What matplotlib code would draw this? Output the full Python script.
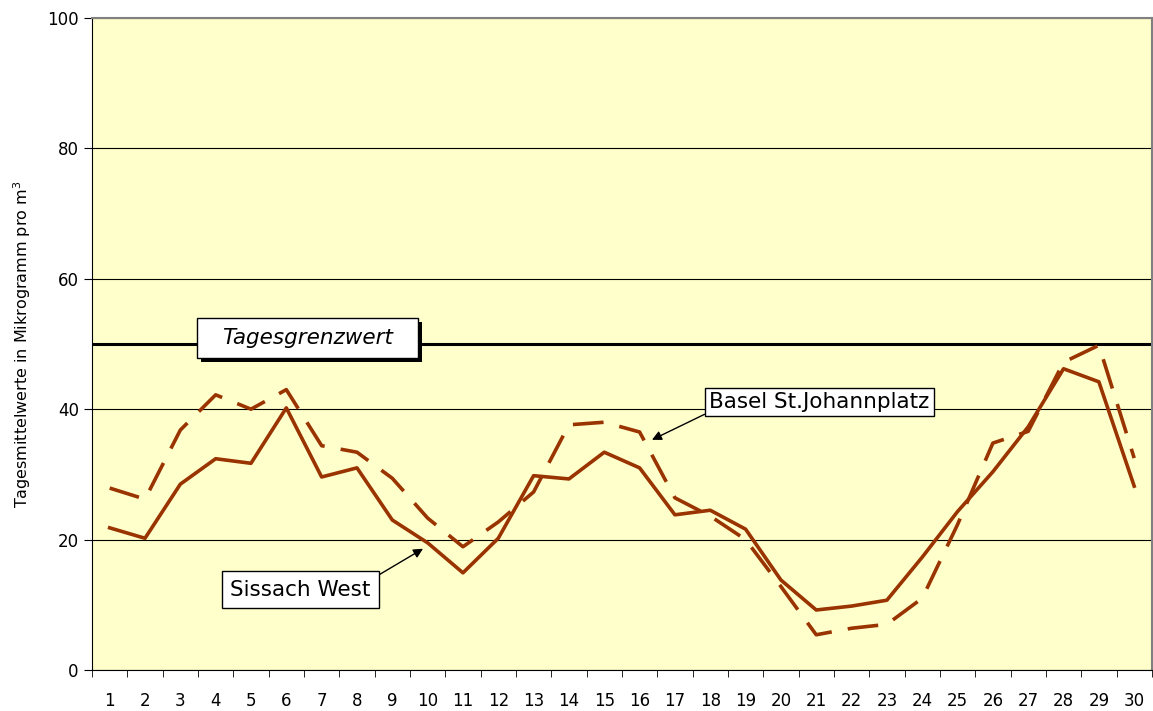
import matplotlib.pyplot as plt
from matplotlib.patches import Rectangle
from matplotlib.ticker import FixedLocator, NullFormatter

# daily values (micrograms per m3)
days = list(range(1, 31))
sissach_west = [21.8, 20.2, 28.5, 32.4, 31.7, 40.2, 29.6, 31.0, 23.0, 19.5,
                14.9, 20.2, 29.8, 29.3, 33.4, 31.0, 23.8, 24.5, 21.6, 13.8,
                9.2, 9.8, 10.7, 17.3, 24.3, 30.4, 37.3, 46.2, 44.2, 28.2]
basel_johann = [27.9, 26.2, 36.8, 42.2, 40.0, 43.0, 34.4, 33.4, 29.4, 23.3,
                18.9, 22.7, 27.3, 37.6, 38.0, 36.5, 26.4, 23.6, 20.0, 12.8,
                5.4, 6.4, 7.0, 11.0, 22.3, 34.8, 36.6, 47.2, 49.8, 32.5]
grenzwert = 50
yticks = [0, 20, 40, 60, 80, 100]

line_col = "#993300"

fig = plt.figure(figsize=(11.53, 7.11), dpi=100)
ax = fig.add_axes([0.0798, 0.0577, 0.9192, 0.917])
ax.set_facecolor("#FFFFCC")

ax.plot(days, basel_johann, color=line_col, lw=2.6, dashes=(8.5, 4.5),
        solid_capstyle="butt", zorder=3)
ax.plot(days, sissach_west, color=line_col, lw=2.6, zorder=4)
ax.axhline(grenzwert, color="black", lw=2.2, zorder=2)

ax.set_xlim(0.5, 30.5)
ax.set_ylim(0, 100)
ax.set_xticks(days)
ax.set_xticklabels([str(d) for d in days], fontsize=12)
ax.xaxis.set_minor_locator(FixedLocator([d + 0.5 for d in range(0, 31)]))
ax.xaxis.set_minor_formatter(NullFormatter())
ax.tick_params(axis="x", which="major", length=0, pad=16)
ax.tick_params(axis="x", which="minor", length=5, direction="out")
ax.set_yticks(yticks)
ax.tick_params(axis="y", labelsize=12, length=6, direction="out")
ax.grid(axis="y", color="black", lw=0.8, zorder=1)
ax.set_axisbelow(True)

for s in ["top", "right"]:
    ax.spines[s].set_color("#808080")
    ax.spines[s].set_linewidth(1.5)
ax.set_ylabel("Tagesmittelwerte in Mikrogramm pro m$^3$", fontsize=11.5,
              labelpad=10)

# limit label: box with drop shadow
ax.add_patch(Rectangle((3.58, 47.25), 6.26, 6.15, fc="black", ec="none", zorder=5))
ax.add_patch(Rectangle((3.47, 47.85), 6.26, 6.15, fc="white", ec="black",
                       lw=1, zorder=6))
ax.text(6.6, 50.9, "Tagesgrenzwert", fontsize=15.5, style="italic",
        ha="center", va="center", zorder=7)

ax.annotate("Sissach West", xy=(9.87, 18.6), xytext=(6.4, 12.3),
            fontsize=15.5, ha="center", va="center", zorder=6,
            bbox=dict(boxstyle="square,pad=0.4", fc="white", ec="black", lw=1),
            arrowprops=dict(arrowstyle="-|>", color="black", lw=1,
                            mutation_scale=14, shrinkA=0, shrinkB=0,
                            relpos=(1.0, 1.0)))
ax.annotate("Basel St.Johannplatz", xy=(16.35, 35.3), xytext=(21.09, 41.1),
            fontsize=15.5, ha="center", va="center", zorder=6,
            bbox=dict(boxstyle="square,pad=0.2", fc="white", ec="black", lw=1),
            arrowprops=dict(arrowstyle="-|>", color="black", lw=1,
                            mutation_scale=14, shrinkA=0, shrinkB=0,
                            relpos=(0.0, 0.0)))

fig.savefig("out.png", dpi=100)
